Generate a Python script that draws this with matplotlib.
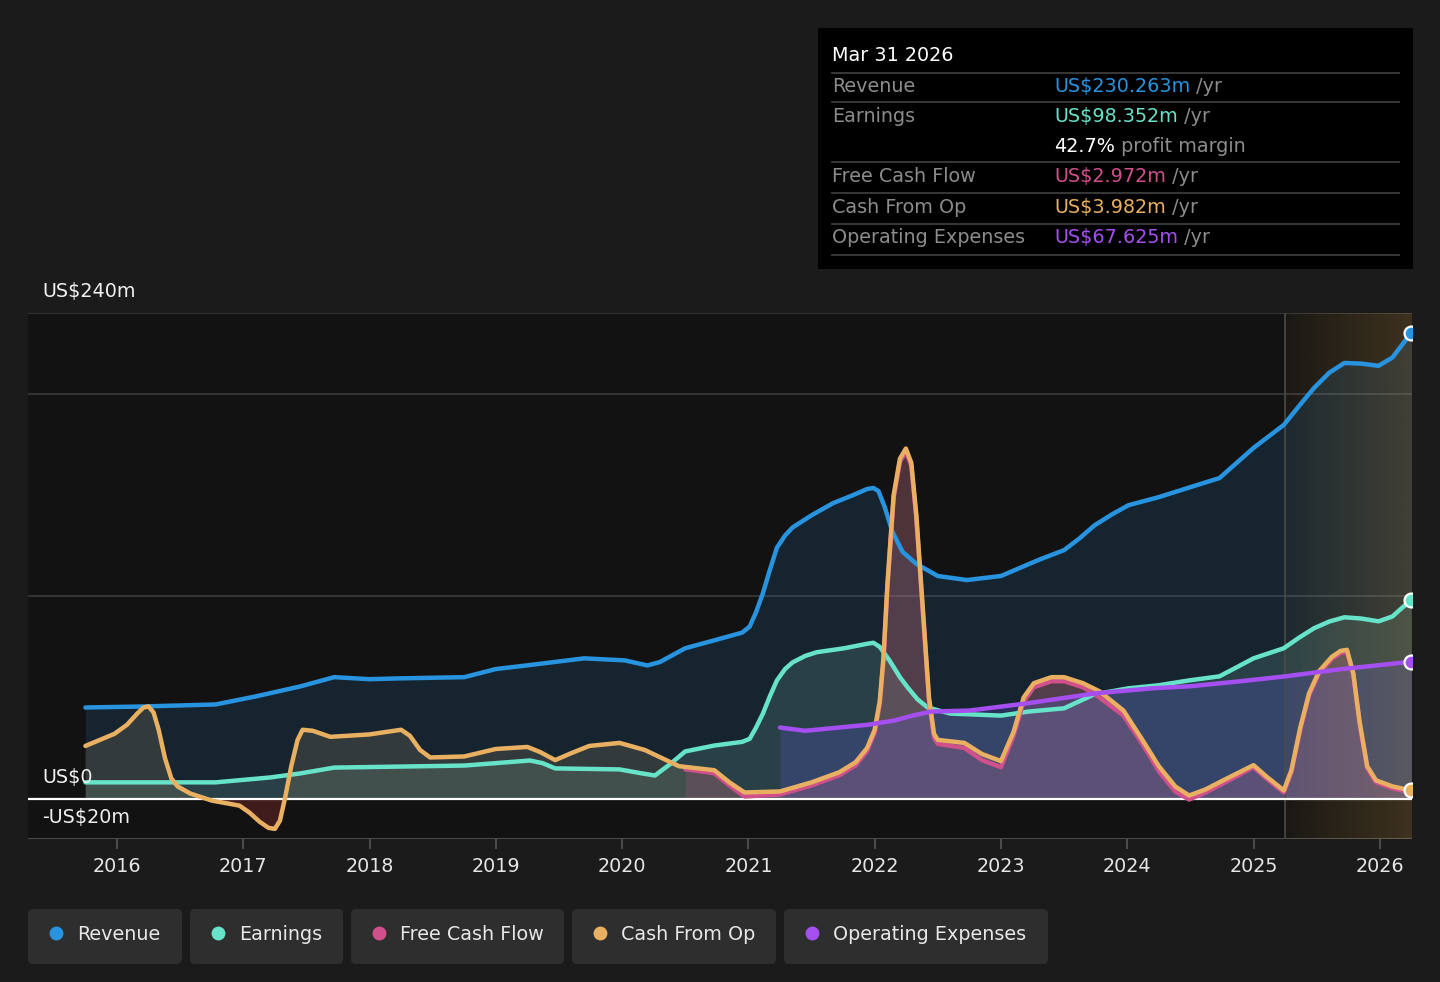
import numpy as np
import matplotlib
matplotlib.use("Agg")
import matplotlib.pyplot as plt
from matplotlib.patches import FancyBboxPatch, Rectangle

# ---------------- data (US$ millions, trailing twelve months) ----------------
rev_x = [2015.75, 2016.2, 2016.78, 2017.1, 2017.45, 2017.72, 2018.0, 2018.24, 2018.75, 2019.0,
         2019.27, 2019.70, 2020.02, 2020.2, 2020.3, 2020.5, 2020.73, 2020.95, 2021.01, 2021.06,
         2021.115, 2021.17, 2021.226, 2021.29, 2021.35, 2021.5, 2021.67, 2021.83, 2021.94, 2021.99,
         2022.03, 2022.08, 2022.14, 2022.22, 2022.33, 2022.5, 2022.73, 2023.0, 2023.15, 2023.3,
         2023.5, 2023.62, 2023.74, 2023.88, 2024.01, 2024.25, 2024.53, 2024.73, 2024.85, 2025.0,
         2025.24, 2025.36, 2025.48, 2025.6, 2025.72, 2025.85, 2025.99, 2026.1, 2026.25]
rev_y = [45.0, 45.5, 46.5, 50.5, 55.4, 60.0, 59.0, 59.4, 60.0, 64.0,
         66.0, 69.3, 68.3, 65.8, 67.5, 74.3, 78.2, 82.0, 85.0, 92.0,
         101.5, 113.0, 124.0, 130.0, 134.0, 140.0, 146.0, 150.0, 153.0, 153.5,
         152.0, 144.0, 132.0, 122.0, 116.0, 110.0, 108.0, 110.0, 114.0, 118.0,
         122.8, 128.5, 135.0, 140.5, 145.0, 149.0, 154.5, 158.4, 165.0, 173.3,
         184.7, 194.0, 203.0, 210.5, 215.3, 215.0, 213.9, 218.0, 230.263]

earn_x = [2015.75, 2016.4, 2016.78, 2017.21, 2017.45, 2017.72, 2018.24, 2018.75, 2019.27, 2019.37,
          2019.47, 2019.98, 2020.15, 2020.26, 2020.38, 2020.5, 2020.73, 2020.95, 2021.01, 2021.06,
          2021.115, 2021.17, 2021.226, 2021.29, 2021.35, 2021.45, 2021.54, 2021.76, 2021.94, 2021.99,
          2022.04, 2022.12, 2022.2, 2022.26, 2022.34, 2022.42, 2022.6, 2023.0, 2023.22, 2023.5,
          2023.74, 2024.01, 2024.25, 2024.49, 2024.73, 2024.87, 2025.0, 2025.24, 2025.36, 2025.48,
          2025.6, 2025.72, 2025.85, 2025.99, 2026.1, 2026.25]
earn_y = [8.0, 8.0, 8.0, 10.4, 12.4, 15.3, 15.8, 16.3, 18.8, 17.5,
          14.9, 14.4, 12.5, 11.4, 17.0, 23.3, 26.2, 28.0, 29.5, 35.0,
          42.0, 50.5, 58.4, 64.0, 67.3, 70.5, 72.3, 74.3, 76.5, 77.0,
          75.0, 68.0, 60.0, 55.0, 49.0, 45.0, 42.0, 41.0, 43.0, 44.6,
          51.5, 54.5, 56.0, 58.4, 60.4, 65.0, 69.3, 74.3, 79.5, 84.2,
          87.5, 89.6, 89.0, 87.6, 90.0, 98.352]

cfo_x = [2015.75, 2015.98, 2016.08, 2016.16, 2016.21, 2016.25, 2016.29, 2016.33, 2016.38, 2016.43,
         2016.48, 2016.58, 2016.75, 2016.97, 2017.05, 2017.13, 2017.2, 2017.25, 2017.29, 2017.33,
         2017.38, 2017.43, 2017.47, 2017.55, 2017.69, 2018.0, 2018.25, 2018.32, 2018.4, 2018.48,
         2018.75, 2019.0, 2019.25, 2019.35, 2019.47, 2019.6, 2019.74, 2019.98, 2020.18, 2020.45,
         2020.73, 2020.85, 2020.97, 2021.25, 2021.50, 2021.72, 2021.85, 2021.94, 2022.0, 2022.04,
         2022.07, 2022.10, 2022.15, 2022.20, 2022.247, 2022.29, 2022.33, 2022.38, 2022.43, 2022.47,
         2022.50, 2022.71, 2022.85, 2023.0, 2023.1, 2023.18, 2023.26, 2023.4, 2023.5, 2023.65,
         2023.78, 2023.97, 2024.12, 2024.25, 2024.38, 2024.49, 2024.62, 2024.76, 2025.0, 2025.1,
         2025.24, 2025.3, 2025.37, 2025.44, 2025.52, 2025.62, 2025.69, 2025.74, 2025.79, 2025.84,
         2025.9, 2025.97, 2026.1, 2026.25]
cfo_y = [26.0, 32.0, 36.5, 42.0, 45.0, 45.5, 42.5, 34.0, 20.0, 10.0,
         6.0, 2.5, -1.0, -3.5, -7.0, -11.5, -14.5, -15.0, -11.0, 0.0,
         16.0, 29.0, 34.0, 33.5, 30.5, 31.7, 34.0, 31.0, 24.0, 20.3,
         20.8, 24.5, 25.5, 23.0, 19.0, 22.5, 26.0, 27.5, 24.0, 16.0,
         14.0, 8.0, 3.0, 3.5, 8.0, 13.0, 18.0, 25.0, 34.0, 48.0,
         70.0, 105.0, 150.0, 168.0, 173.0, 166.0, 140.0, 95.0, 50.0, 32.0,
         29.0, 27.5, 22.0, 18.5, 33.0, 50.0, 57.0, 60.0, 60.0, 57.0,
         53.0, 43.5, 29.0, 16.0, 6.0, 1.5, 4.5, 9.0, 16.5, 11.0,
         4.0, 14.0, 35.0, 52.0, 63.0, 70.0, 73.0, 73.5, 62.0, 38.0,
         16.0, 9.0, 6.0, 3.982]

fcf_x = [2020.5, 2020.73, 2020.85, 2020.97, 2021.25, 2021.50, 2021.72, 2021.85, 2021.94, 2022.0,
         2022.04, 2022.07, 2022.10, 2022.15, 2022.20, 2022.247, 2022.29, 2022.33, 2022.38, 2022.43,
         2022.47, 2022.50, 2022.71, 2022.85, 2023.0, 2023.1, 2023.18, 2023.26, 2023.4, 2023.5,
         2023.65, 2023.78, 2023.97, 2024.12, 2024.25, 2024.38, 2024.49, 2024.62, 2024.76, 2025.0,
         2025.1, 2025.24, 2025.3, 2025.37, 2025.44, 2025.52, 2025.62, 2025.69, 2025.74, 2025.79,
         2025.84, 2025.9, 2025.97, 2026.1, 2026.25]
fcf_y = [14.5, 12.5, 6.5, 1.0, 2.0, 6.5, 11.5, 16.5, 23.5, 32.5,
         46.5, 68.5, 103.5, 148.5, 166.5, 171.5, 164.5, 138.5, 93.5, 48.5,
         30.0, 27.0, 25.0, 19.0, 15.5, 31.0, 48.0, 55.0, 58.0, 58.0,
         55.0, 50.0, 41.0, 27.0, 13.5, 3.5, -0.5, 3.0, 7.5, 15.5,
         10.0, 3.0, 13.0, 34.0, 51.0, 62.0, 69.0, 72.0, 72.5, 61.0,
         37.0, 15.0, 8.0, 5.0, 2.972]

opex_x = [2021.25, 2021.45, 2021.7, 2021.95, 2022.15, 2022.3, 2022.45, 2022.75, 2023.2, 2023.75,
          2024.2, 2024.5, 2024.9, 2025.25, 2025.7, 2026.25]
opex_y = [35.1, 33.5, 35.0, 36.5, 38.5, 41.0, 43.0, 43.5, 47.0, 52.0,
          54.5, 55.5, 58.0, 60.4, 64.0, 67.625]

x_ticks = [2016, 2017, 2018, 2019, 2020, 2021, 2022, 2023, 2024, 2025, 2026]
y_grid = [240, 200, 100]
forecast_start = 2025.25

series_names = ["Revenue", "Earnings", "Free Cash Flow", "Cash From Op", "Operating Expenses"]
series_colors = ["#2894e0", "#66e3c8", "#d0508c", "#eab062", "#a64ff0"]
tooltip_date = "Mar 31 2026"
tooltip_values = ["US$230.263m", "US$98.352m", "US$2.972m", "US$3.982m", "US$67.625m"]
profit_margin = "42.7%"

# ---------------- figure ----------------
W, H = 1440, 982
fig = plt.figure(figsize=(W / 100, H / 100), dpi=100, facecolor="#1b1b1b")
plt.rcParams['font.family'] = ['DejaVu Sans']

L, R, T, B = 28, 1412, 313, 839
ax = fig.add_axes([L / W, 1 - B / H, (R - L) / W, (B - T) / H])
ax.set_facecolor("#121212")
x_right = 2026.255
x0 = 2016 - (117 - L) / 126.3
ax.set_xlim(x0, x_right)
ax.set_ylim(-20, 240)
for s in ax.spines.values():
    s.set_visible(False)
ax.set_yticks([])
ax.set_xticks(x_ticks)
ax.set_xticklabels([str(t) for t in x_ticks], color="#e6e6e6", fontsize=13.8)
ax.tick_params(axis="x", colors="#555555", length=7, width=1.2, pad=6, labelcolor="#e6e6e6")

for g in y_grid:
    ax.axhline(g, color="#3a3a3a", lw=1.2, zorder=1)
ax.axhline(-20, color="#4a4a4a", lw=1.5, zorder=1)

c_rev, c_earn, c_fcf, c_cfo, c_opex = series_colors

# fills
ax.fill_between(rev_x, rev_y, 0, color=c_rev, alpha=0.14, lw=0, zorder=2)
ax.fill_between(earn_x, earn_y, 0, color="#6fa89a", alpha=0.22, lw=0, zorder=2)
cfo_arr = np.array(cfo_y)
ax.fill_between(cfo_x, cfo_arr, 0, where=cfo_arr >= 0, interpolate=True,
                color="#9a8a6a", alpha=0.22, lw=0, zorder=2)
ax.fill_between(cfo_x, cfo_arr, 0, where=cfo_arr <= 0, interpolate=True,
                color="#7a2a2a", alpha=0.45, lw=0, zorder=2)
ax.fill_between(fcf_x, fcf_y, 0, color="#c05080", alpha=0.22, lw=0, zorder=2)
ax.fill_between(opex_x, opex_y, 0, color="#5a55c8", alpha=0.28, lw=0, zorder=2)

# forecast band
grad = np.zeros((2, 256, 4))
grad[..., 0] = 0.80
grad[..., 1] = 0.60
grad[..., 2] = 0.28
grad[..., 3] = np.linspace(0.05, 0.24, 256)[None, :]
ax.imshow(grad, extent=[forecast_start, x_right, -20, 240], aspect="auto",
          interpolation="bilinear", zorder=3)
ax.axvline(forecast_start, color="#4a4a4a", lw=1.2, zorder=3)

ax.axhline(0, color="#ffffff", lw=1.6, zorder=4)

# lines
lw = 3.2
kw = dict(lw=lw, solid_capstyle="round", solid_joinstyle="round")
ax.plot(rev_x, rev_y, color=c_rev, zorder=5, **kw)
ax.plot(earn_x, earn_y, color=c_earn, zorder=5, **kw)
ax.plot(fcf_x, fcf_y, color=c_fcf, zorder=6, **kw)
ax.plot(cfo_x, cfo_y, color=c_cfo, zorder=7, **kw)
ax.plot(opex_x, opex_y, color=c_opex, zorder=8, **kw)

# end markers (clipped at the plot edge as in the original)
for xs, ys, c in [(rev_x, rev_y, c_rev), (earn_x, earn_y, c_earn),
                  (opex_x, opex_y, c_opex), (cfo_x, cfo_y, c_cfo)]:
    ax.plot([xs[-1]], [ys[-1]], "o", ms=10, mfc=c, mec="white", mew=1.6, zorder=10, clip_on=True)

# ---------------- overlay in pixel coords ----------------
ov = fig.add_axes([0, 0, 1, 1], zorder=20)
ov.set_xlim(0, W)
ov.set_ylim(H, 0)
ov.axis("off")
ov.patch.set_alpha(0)

fs = 13.8
ov.text(42, 291, "US$240m", color="#f0f0f0", fontsize=fs, va="center", ha="left")
ov.text(42, 777, "US$0", color="#f0f0f0", fontsize=fs, va="center", ha="left")
ov.text(42, 818, "-US$20m", color="#f0f0f0", fontsize=fs, va="center", ha="left")

# tooltip
ov.add_patch(Rectangle((818, 28), 595, 241, facecolor="#000000", edgecolor="none"))
ov.text(832, 55, tooltip_date, color="#ffffff", fontsize=fs, va="center", ha="left")
for ysep in [73, 102, 162, 193, 224, 255]:
    ov.plot([832, 1399], [ysep, ysep], color="#3c3c3c", lw=1.3)

fig.canvas.draw()
renderer = fig.canvas.get_renderer()
grey = "#8c8c8c"
row_y = [86, 116, 176, 207, 237]
for name, val, c, yy in zip(series_names, tooltip_values, series_colors, row_y):
    ov.text(832, yy, name, color=grey, fontsize=fs, va="center", ha="left")
    t = ov.text(1054, yy, val, color=c, fontsize=fs, va="center", ha="left")
    wpx = t.get_window_extent(renderer).width
    ov.text(1054 + wpx, yy, " /yr", color=grey, fontsize=fs, va="center", ha="left")
t = ov.text(1054, 146, profit_margin, color="#ffffff", fontsize=fs, va="center", ha="left")
wpx = t.get_window_extent(renderer).width
ov.text(1054 + wpx, 146, " profit margin", color=grey, fontsize=fs, va="center", ha="left")

# legend pills
pills = [(28, 182), (190, 343), (351, 564), (572, 776), (784, 1048)]
for (a, b), name, c in zip(pills, series_names, series_colors):
    ov.add_patch(FancyBboxPatch((a, 909), b - a, 55, boxstyle="round,pad=0,rounding_size=5",
                                facecolor="#2e2e2e", edgecolor="none"))
    ov.plot([a + 28], [933], "o", ms=10, color=c, mec="none")
    ov.text(a + 49, 934, name, color="#e8e8e8", fontsize=fs, va="center", ha="left")

fig.savefig("out.png", dpi=100, facecolor=fig.get_facecolor())
